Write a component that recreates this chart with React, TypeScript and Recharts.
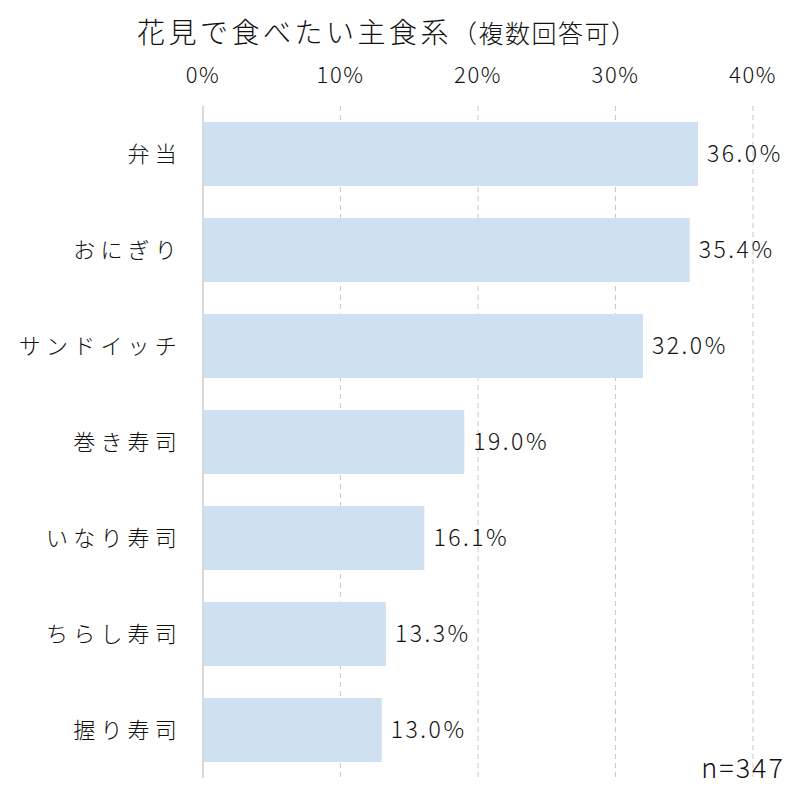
import React from "react";
import { BarChart, Bar, XAxis, YAxis, CartesianGrid, ReferenceLine, LabelList } from "recharts";

const categories = ["弁当", "おにぎり", "サンドイッチ", "巻き寿司", "いなり寿司", "ちらし寿司", "握り寿司"];
const values = [36.0, 35.4, 32.0, 19.0, 16.1, 13.3, 13.0];
const xTicks = [0, 10, 20, 30, 40];

const data = categories.map((name, i) => ({ name, value: values[i] }));

const FONT = "'Noto Sans CJK JP', 'Noto Sans', sans-serif";

export default function App() {
  return (
    <div style={{ position: "absolute", left: 0, top: 0, width: 796, height: 799, background: "#fff", fontFamily: FONT }}>
      <BarChart
        width={796}
        height={799}
        data={data}
        layout="vertical"
        margin={{ top: 56, right: 43, bottom: 21, left: 10 }}
        barCategoryGap={16}
      >
        <text x={137} y={43} fontSize={28} fill="#111" fontFamily={FONT} fontWeight={300} letterSpacing={3.5}>
          花見で食べたい主食系<tspan fontSize={25} letterSpacing={1.5}>（複数回答可）</tspan>
        </text>
        <CartesianGrid horizontal={false} stroke="#c8c8c8" strokeDasharray="5 4" />
        <XAxis
          type="number"
          orientation="top"
          domain={[0, 40]}
          ticks={xTicks}
          tickFormatter={(v) => `${v}%`}
          axisLine={false}
          tickLine={false}
          height={50}
          tickMargin={17}
          tick={{ fontSize: 22, fill: "#111", fontFamily: FONT, fontWeight: 300, letterSpacing: 1.5 }}
        />
        <YAxis
          type="category"
          dataKey="name"
          width={193}
          axisLine={false}
          tickLine={false}
          tickMargin={15}
          tick={{ fontSize: 22, fill: "#111", fontFamily: FONT, fontWeight: 300, letterSpacing: 5.2 }}
        />
        <ReferenceLine x={0} stroke="#d8d8d8" strokeWidth={2} />
        <Bar dataKey="value" fill="#cfe0f1" isAnimationActive={false}>
          <LabelList
            dataKey="value"
            position="right"
            offset={9}
            formatter={(v: number) => `${v.toFixed(1)}%`}
            style={{ fontSize: 23, fill: "#111", fontFamily: FONT, fontWeight: 300, letterSpacing: 2.5 }}
          />
        </Bar>
        <text x={785} y={778} textAnchor="end" fontSize={27} fill="#111" fontFamily={FONT} fontWeight={300} letterSpacing={2}>
          n=347
        </text>
      </BarChart>
    </div>
  );
}
